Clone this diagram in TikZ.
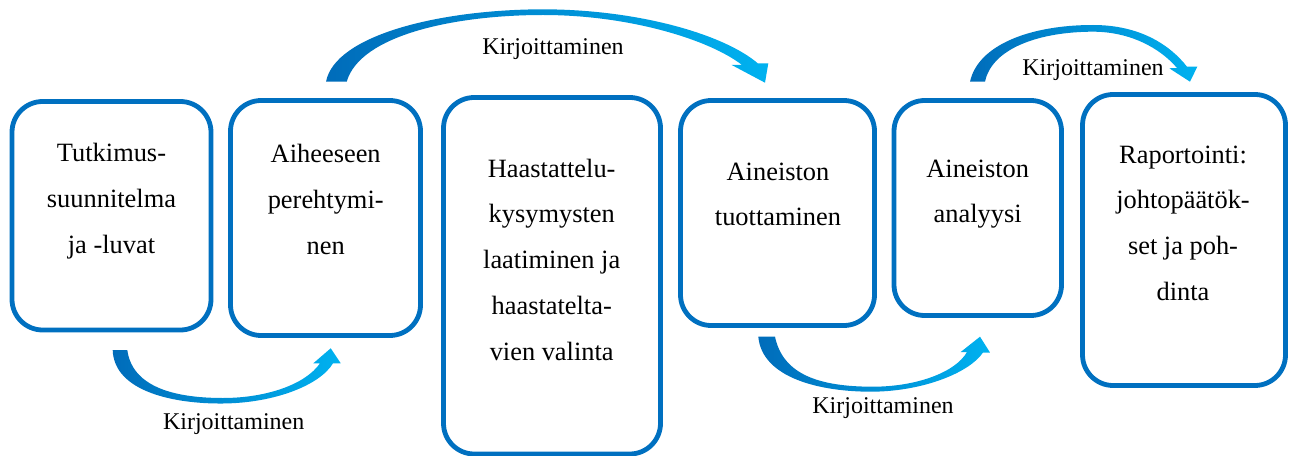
\documentclass[tikz,border=0pt]{standalone}
\usepackage{fontspec}
\setmainfont{Liberation Serif}
\usetikzlibrary{fit}
\definecolor{boxblue}{RGB}{0,112,192}
\definecolor{arrowdark}{RGB}{0,108,186}
\definecolor{arrowlight}{RGB}{0,178,240}
\tikzset{
  box/.style={draw=boxblue, line width=3.6pt, rounded corners=23pt, inner sep=0pt, fill=white},
  txt/.style={align=center, font=\fontsize{19.8}{34.4}\selectfont, anchor=base, inner sep=0pt},
  lbl/.style={font=\fontsize{18}{21}\selectfont, anchor=base, inner sep=0pt},
  flow/.style={left color=arrowdark, right color=arrowlight, draw=none}
}
\begin{document}
\begin{tikzpicture}[x=0.75pt, y=-0.75pt]
\useasboundingbox (0,0) rectangle (1294,456);
% boxes
\node[box, fit={(12,101.5) (211,330)}] (b1) {};
\node[box, fit={(230.5,100.5) (420.5,335.5)}] (b2) {};
\node[box, fit={(443.5,97.5) (660.5,454)}] (b3) {};
\node[box, fit={(680.5,100.5) (874.5,325.5)}] (b4) {};
\node[box, fit={(894,100.5) (1061.5,315.5)}] (b5) {};
\node[box, fit={(1082.5,94.5) (1285.5,385.5)}] (b6) {};
% texts (anchor = baseline of the last line)
\node[txt] (t1) at (111.5,253.4) {Tutkimus-\\suunnitelma\\ja -luvat};
\node[txt] (t2) at (325.7,254.4) {Aiheeseen\\perehtymi-\\nen};
\node[txt] (t3) at (551.7,360.5) {Haastattelu-\\kysymysten\\laatiminen ja\\haastatelta-\\vien valinta};
\node[txt] (t4) at (778,225.9) {Aineiston\\tuottaminen};
\node[txt] (t5) at (977.7,222.9) {Aineiston\\analyysi};
\node[txt] (t6) at (1183,300.6) {Raportointi:\\johtopäätök-\\set ja poh-\\dinta};
% curved block arrows
\path[flow] (112.7,350) .. controls (114,392) and (175,404) .. (223,403.5)
  .. controls (275,403) and (320,385) .. (333,363.3) -- (340.7,363.3) -- (330.7,348.3)
  -- (313.3,363.3) -- (320,363.3) .. controls (305,385) and (265,398) .. (223,398)
  .. controls (170,398) and (132,385) .. (127.3,350) -- cycle;
\path[flow] (326,81.7) .. controls (335,35) and (440,9.5) .. (543,9.3)
  .. controls (640,9.5) and (725,35) .. (758,63.5) -- (768.3,63.3) -- (765,82.7)
  -- (731.7,65) -- (742,65) .. controls (710,40) and (630,15) .. (543,15)
  .. controls (455,15) and (360,35) .. (346.7,81.7) -- cycle;
\path[flow] (758.3,336.7) .. controls (762,378) and (820,392) .. (873,391.7)
  .. controls (925,391) and (970,372) .. (983,352.5) -- (990,352.5) -- (980,336.7)
  -- (960.7,352) -- (967,352) .. controls (955,373) and (915,386.7) .. (873,386.7)
  .. controls (820,386.7) and (783,375) .. (775,336.7) -- cycle;
\path[flow] (970,81.7) .. controls (978,45) and (1030,25) .. (1093,25)
  .. controls (1140,25) and (1170,45) .. (1187,66.7) -- (1197.3,66.7) -- (1190,81.7)
  -- (1169.3,68.3) -- (1177,68) .. controls (1160,48) and (1130,31.7) .. (1093,31.7)
  .. controls (1040,31.7) and (992,48) .. (985,81.7) -- cycle;
% labels
\node[lbl] (l1) at (233.7,429) {Kirjoittaminen};
\node[lbl] (l2) at (553,55) {Kirjoittaminen};
\node[lbl] (l3) at (883,413) {Kirjoittaminen};
\node[lbl] (l4) at (1093,76) {Kirjoittaminen};
\end{tikzpicture}
\end{document}
